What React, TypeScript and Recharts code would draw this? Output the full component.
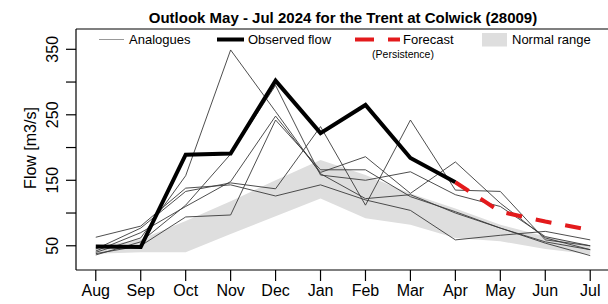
import { ComposedChart, Line, Area, XAxis, YAxis, ReferenceLine } from 'recharts';

const MONTHS = ['Aug', 'Sep', 'Oct', 'Nov', 'Dec', 'Jan', 'Feb', 'Mar', 'Apr', 'May', 'Jun', 'Jul'];

const observed = [49, 48, 189, 191, 302, 222, 265, 184, 147, null, null, null];
const forecast = [null, null, null, null, null, null, null, null, 147, 102, 87, 74];

const analogue1 = [40, 62, 157, 349, 255, 160, 122, 128, 100, 77, 56, 44];
const analogue2 = [36, 56, 112, 190, 295, 158, 150, 163, 128, 110, 64, 50];
const analogue3 = [63, 80, 138, 143, 126, 143, 120, 104, 59, 66, 72, 59];
const analogue4 = [45, 77, 133, 146, 137, 232, 112, 242, 135, 133, 59, 50];
const analogue5 = [38, 50, 94, 97, 242, 166, 166, 125, 102, 77, 54, 35];
const analogue6 = [42, 70, 110, 148, 248, 162, 186, 130, 178, 115, 62, 44];
const analogues = [analogue1, analogue2, analogue3, analogue4, analogue5, analogue6];

const normalLow = [38, 40, 40, 68, 95, 122, 92, 82, 62, 57, 45, 37];
const normalHigh = [48, 60, 88, 118, 150, 181, 158, 130, 107, 82, 64, 50];

const Y_TICKS = [50, 100, 150, 200, 250, 300, 350];
const Y_LABELLED = [50, 150, 250, 350];
const Y_MIN = 13;
const Y_MAX = 381;

const data = MONTHS.map((m, i) => {
  const row: any = { i, month: m, obs: observed[i], fc: forecast[i], normal: [normalLow[i], normalHigh[i]] };
  analogues.forEach((a, k) => {
    row[`a${k + 1}`] = a[i];
  });
  return row;
});

const font = '"Liberation Sans", Arial, sans-serif';

const YTick = (props: any) => {
  const { y, payload } = props;
  if (!Y_LABELLED.includes(payload.value)) return null;
  return (
    <text
      transform={`translate(52, ${y}) rotate(-90)`}
      textAnchor="middle"
      dominantBaseline="central"
      fontSize={16}
      fontFamily={font}
      fill="#000"
    >
      {payload.value}
    </text>
  );
};

export default function App() {
  return (
    <div style={{ position: 'absolute', left: 0, top: 0, width: 608, height: 304, overflow: 'hidden', background: '#fff' }}>
      <ComposedChart width={612} height={304} data={data} margin={{ top: 29, right: 2, bottom: 0, left: 0 }}>
        <XAxis
          dataKey="i"
          type="number"
          domain={[-0.44, 11.44]}
          ticks={MONTHS.map((_, i) => i)}
          interval={0}
          tickFormatter={(v: number) => MONTHS[v]}
          height={34}
          tickSize={11}
          tickMargin={4}
          axisLine={{ stroke: '#000', strokeWidth: 1.2 }}
          tickLine={{ stroke: '#000', strokeWidth: 1.2 }}
          tick={{ fill: '#000', fontSize: 16, fontFamily: font }}
        />
        <YAxis
          type="number"
          domain={[Y_MIN, Y_MAX]}
          allowDataOverflow
          ticks={Y_TICKS}
          interval={0}
          width={76}
          tickSize={10}
          axisLine={{ stroke: '#000', strokeWidth: 1.2 }}
          tickLine={{ stroke: '#000', strokeWidth: 1.2 }}
          tick={<YTick />}
        />
        <ReferenceLine y={Y_MAX} stroke="#000" strokeWidth={1.2} />
        <Area
          dataKey="normal"
          type="linear"
          stroke="none"
          fill="#dedede"
          fillOpacity={1}
          isAnimationActive={false}
        />
        {analogues.map((_, k) => (
          <Line
            key={k}
            dataKey={`a${k + 1}`}
            type="linear"
            stroke="#3a3a3a"
            strokeWidth={0.9}
            dot={false}
            activeDot={false}
            isAnimationActive={false}
          />
        ))}
        <Line
          dataKey="obs"
          type="linear"
          stroke="#000"
          strokeWidth={4}
          strokeLinejoin="miter"
          dot={false}
          activeDot={false}
          connectNulls={false}
          isAnimationActive={false}
        />
        <Line
          dataKey="fc"
          type="linear"
          stroke="#e31a1c"
          strokeWidth={4}
          strokeDasharray="16 14"
          dot={false}
          activeDot={false}
          isAnimationActive={false}
        />
      </ComposedChart>
      <svg width={608} height={304} style={{ position: 'absolute', left: 0, top: 0, pointerEvents: 'none' }}>
        <text x={343} y={23} textAnchor="middle" fontSize={15} fontWeight="bold" fontFamily={font} fill="#000">
          Outlook May - Jul 2024 for the Trent at Colwick (28009)
        </text>
        <text
          transform="translate(30, 148) rotate(-90)"
          textAnchor="middle"
          dominantBaseline="central"
          fontSize={16}
          fontFamily={font}
          fill="#000"
        >
          Flow [m3/s]
        </text>
        <line x1={99} x2={124} y1={39.5} y2={39.5} stroke="#999" strokeWidth={1} />
        <text x={129} y={44} fontSize={13} fontFamily={font} fill="#000">Analogues</text>
        <line x1={217} x2={244} y1={39.5} y2={39.5} stroke="#000" strokeWidth={4} />
        <text x={248} y={44} fontSize={13} fontFamily={font} fill="#000">Observed flow</text>
        <line x1={355} x2={400} y1={39.5} y2={39.5} stroke="#e31a1c" strokeWidth={4} strokeDasharray="19 14" />
        <text x={403} y={44} fontSize={13} fontFamily={font} fill="#000">Forecast</text>
        <text x={403} y={57.5} textAnchor="middle" fontSize={10.5} fontFamily={font} fill="#000">(Persistence)</text>
        <rect x={482} y={33} width={25} height={13.5} fill="#dedede" />
        <text x={512} y={44} fontSize={13} fontFamily={font} fill="#000">Normal range</text>
      </svg>
    </div>
  );
}
